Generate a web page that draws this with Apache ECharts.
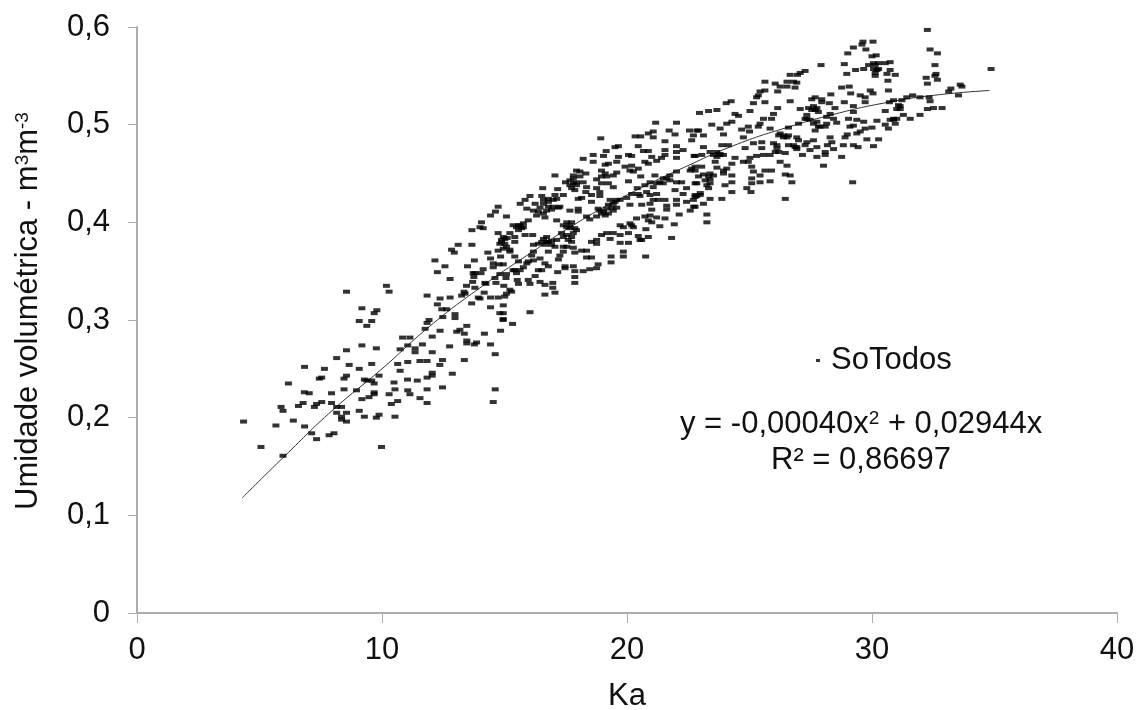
<!DOCTYPE html>
<html><head><meta charset="utf-8">
<script src="https://cdn.jsdelivr.net/npm/echarts@6/dist/echarts.min.js"></script>
<style>html,body{margin:0;padding:0;background:#fff}#c{width:1139px;height:710px}</style>
</head><body><div id="c"></div>
<script>
const xTicks=[0,10,20,30,40];
const yTicks=['0','0,1','0,2','0,3','0,4','0,5','0,6'];
const seriesName='SoTodos';
const r2Text='R² = 0,86697';
const trendLine=[[4.3,.118],[6,.16],[8,.208],[10,.25],[11.92,.293],[14,.333],[15.97,.367],[18,.4],[20,.428],[22.57,.459],[24.5,.48],[26.65,.498],[28.5,.511],[30.46,.522],[32.5,.53],[34.8,.535]];
const zonaBaixa=[[4.34,.196],[5.05,.170],[5.94,.161],[5.65,.192],[5.86,.211],[5.94,.207],[6.36,.197],[6.82,.191],[7.11,.184],[7.31,.178],[7.82,.182],[8.02,.184],[6.16,.235],[6.82,.252],[6.81,.226],[7.01,.225],[6.57,.212],[6.76,.215],[7.22,.211],[7.31,.214],[7.52,.216],[7.92,.225],[7.92,.215],[8.13,.211],[8.33,.211],[8.13,.205],[8.53,.205],[8.33,.201],[8.33,.198],[8.53,.196],[7.42,.240],[7.52,.241],[7.63,.250],[8.13,.261],[8.53,.269],[8.63,.254],[8.43,.240],[8.53,.243],[8.43,.229],[8.93,.228],[9.04,.250],[9.15,.274],[9.55,.255],[9.74,.271],[8.53,.329],[9.15,.312],[9.65,.307],[9.76,.310],[9.04,.299],[9.55,.299],[9.35,.294],[10.15,.335],[10.26,.329],[11.81,.325],[9.25,.239],[9.35,.238],[9.55,.238],[9.65,.235],[9.85,.243],[9.15,.219],[9.44,.221],[9.65,.226],[9.65,.224],[9.04,.207],[9.25,.201],[9.74,.200],[9.85,.203],[9.95,.170],[10.50,.201],[10.26,.224],[10.35,.214],[10.61,.217],[10.50,.229],[10.46,.236],[10.61,.255],[10.71,.248],[11.02,.257],[11.01,.239],[11.41,.238],[11.02,.228],[11.11,.224],[11.52,.220],[11.81,.229],[11.81,.215],[11.81,.241],[11.52,.258],[11.81,.258],[10.71,.270],[11.02,.274],[11.32,.271],[11.32,.267],[11.62,.275],[10.81,.282],[11.11,.282],[11.73,.291],[11.81,.297],[11.89,.300],
[12.33,.289],[13.01,.288],[13.14,.290],[13.42,.294],[13.32,.286],[14.14,.286],[14.80,.289],[15.29,.296],[14.90,.300],[12.02,.283],[12.72,.273],[13.42,.279],[13.42,.276],[13.73,.275],[13.82,.277],[14.39,.275],[14.58,.265],[12.02,.267],[12.43,.259],[12.32,.254],[13.32,.259],[12.02,.246],[12.02,.243],[12.83,.245],[12.43,.231],[14.58,.229],[14.50,.216]];
const zonaMedia=[[12.22,.349],[12.12,.361],[12.53,.355],[12.33,.322],[12.74,.323],[12.22,.316],[12.74,.342],[12.40,.311],[12.60,.311],[12.94,.306],[12.94,.302],[12.44,.303],[12.91,.369],[12.80,.372],[13.07,.377],[13.63,.377],[13.63,.392],[13.96,.395],[14.09,.394],[14.02,.400],[14.39,.407],[14.59,.411],[14.70,.416],[15.04,.406],[13.45,.355],[13.73,.361],[14.28,.369],[14.39,.363],[14.50,.358],[14.50,.354],[14.73,.357],[14.91,.357],[14.80,.365],[14.09,.352],[14.00,.348],[13.75,.348],[13.71,.344],[13.66,.339],[13.41,.335],[13.31,.329],[13.21,.325],[13.35,.327],[13.75,.333],[13.89,.323],[13.96,.322],[13.62,.317],[14.16,.338],[14.20,.337],[14.57,.343],[14.77,.347],[15.04,.347],[15.38,.351],[15.52,.360],[15.38,.365],[15.18,.370],[15.38,.380],[14.70,.389],[14.84,.382],[14.97,.383],[14.77,.378],[14.91,.373],[14.70,.371],[15.18,.372],[15.04,.375],[14.13,.328],[14.39,.323],[14.39,.313],[14.70,.323],[14.91,.315],[14.77,.307],[14.91,.307],[14.91,.301],[14.97,.324],[15.04,.327],[15.18,.331],[15.25,.329],[14.61,.338],[14.93,.335],[15.02,.343],[15.48,.341],[15.52,.337],[15.92,.341],[15.99,.337],[16.40,.339],[16.60,.336],[16.92,.338],[16.92,.333],[17.01,.328],[16.60,.326],[15.99,.308],[15.31,.397],[15.52,.397],[15.72,.399],[15.92,.402],[15.65,.394],[15.45,.395],[15.18,.389],[15.38,.385],[15.79,.387],[16.10,.387],[15.59,.419],[15.79,.423],[15.99,.427],[15.86,.414],[16.20,.419],[16.47,.427],[16.51,.435],[16.54,.423],[16.74,.424],[17.01,.428],[17.12,.434],[17.35,.428],[17.21,.416],[16.94,.416],[16.74,.416],[16.33,.411],[16.54,.409],[16.60,.405],[17.08,.402],[16.26,.407],[17.62,.412],[17.96,.414],[17.96,.411],[17.49,.400],[17.69,.400],[17.35,.397],[17.62,.394],[17.82,.394],[17.76,.389],[17.49,.387],[17.28,.389],[17.01,.448],[17.44,.441],[17.62,.443],[17.76,.448],[17.89,.453],[18.03,.452],[18.27,.450],[17.76,.440],[17.89,.438],[18.16,.441],[17.69,.435],[17.82,.433],[18.10,.425],[17.96,.424],[18.30,.436],[18.27,.431],[18.71,.444],[18.91,.447],[19.05,.450],[18.91,.453],[19.05,.459],[19.18,.460],[19.52,.462],[18.88,.486],[18.16,.465],[18.57,.469],[18.57,.462],[18.98,.468],[19.09,.473],[19.45,.477],[19.59,.478],[19.59,.467],[20.00,.469],[20.13,.468],[20.40,.478],[20.27,.488],[20.50,.488],[20.81,.491],[21.01,.493],[21.01,.487],[21.11,.502],[21.96,.502],[21.49,.483],[21.66,.494],[21.90,.490],[22.48,.494],[22.78,.494],[22.64,.489],[22.57,.484],[20.61,.473],[20.81,.473],[21.49,.474],[21.49,.469],[21.96,.478],[21.96,.472],[22.23,.474],[21.96,.466],[22.67,.468],[21.35,.466],[20.95,.467],[21.15,.463],[20.81,.460],[20.67,.462],[20.13,.458],[19.86,.457],[20.06,.453],[20.20,.452],[20.40,.455],[19.52,.451],[19.38,.448],[19.11,.447],[20.00,.442],[20.50,.447],[21.08,.448],[21.96,.452],[22.51,.453],[22.71,.457],[18.91,.440],[19.18,.440],[19.38,.436],[18.71,.435],[18.84,.431],[18.50,.428],[18.84,.427],[18.50,.421],[18.77,.414],[18.84,.412],[18.30,.406],[18.71,.406],[18.43,.403],[19.05,.407],[19.18,.409],[19.38,.412],[19.52,.415],[19.45,.421],[19.66,.423],[19.18,.418],[19.32,.415],[19.93,.425],[20.13,.429],[20.36,.435],[20.67,.438],[20.88,.441],[21.15,.440],[21.42,.445],[21.69,.448],[21.96,.441],[22.17,.441],[22.71,.440],[22.37,.435],[21.90,.433],[21.01,.436],[20.74,.431],[20.88,.428],[21.15,.429],[20.40,.429],[20.47,.427],[22.23,.429],[22.71,.426],[22.64,.423],[21.96,.423],[21.49,.423],[21.01,.423],[20.06,.418],[20.54,.418],[20.95,.413],[21.56,.413],[21.96,.418],[22.37,.421],[22.71,.416],[22.51,.412],[22.07,.408],[21.56,.417],[21.22,.423],[20.88,.419],[19.66,.397],[19.79,.395],[20.06,.399],[20.33,.404],[20.67,.406],[20.88,.407],[21.15,.405],[20.81,.402],[20.95,.400],[21.49,.404],[21.28,.396],[21.87,.398],[20.71,.393],[20.00,.389],[20.20,.395],[20.13,.397],[20.40,.386],[20.81,.385],[20.54,.382],[21.76,.384],[18.91,.387],[19.11,.389],[19.38,.389],[19.66,.387],[19.25,.383],[18.71,.382],[18.50,.380],[18.71,.378],[19.66,.379],[20.00,.379],[20.47,.382],[18.10,.371],[18.30,.371],[18.30,.364],[18.50,.364],[19.29,.365],[19.29,.359],[19.79,.370],[19.79,.365],[20.70,.365],[18.77,.357],[18.71,.353],[18.43,.352],[18.16,.350],[17.82,.350],[17.82,.344],[17.82,.338],[17.76,.355],[17.42,.355],[17.42,.353],[17.12,.349],[16.47,.351],[16.33,.351],[16.20,.345],[15.59,.351],[15.86,.358],[16.13,.361],[16.06,.366],[16.13,.370],[16.40,.363],[16.60,.358],[16.74,.355],[16.13,.377],[16.33,.378],[16.67,.385],[16.74,.380],[17.08,.382],[17.35,.375],[17.21,.366],[17.35,.370],[17.49,.375],[17.69,.380],[17.76,.374],[17.82,.369],[17.15,.362],[16.74,.370],[16.47,.380],[16.60,.377],[16.87,.377],[17.01,.375]];
const zonaAlta=[[32.17,.597],[32.28,.577],[32.58,.573],[32.48,.561],[32.52,.552],[32.48,.550],[32.58,.546],[32.12,.548],[32.17,.542],[34.76,.557],[29.54,.585],[29.95,.585],[29.50,.582],[29.16,.579],[29.66,.577],[28.93,.573],[29.91,.570],[30.08,.571],[28.79,.562],[27.84,.561],[28.89,.552],[29.25,.556],[29.57,.557],[29.77,.561],[29.97,.563],[30.18,.563],[30.65,.564],[30.45,.563],[29.97,.557],[30.18,.557],[30.04,.553],[30.65,.556],[30.52,.552],[30.04,.550],[30.86,.551],[30.56,.545],[27.19,.555],[26.99,.553],[26.88,.551],[26.58,.551],[25.56,.544],[25.97,.542],[26.17,.539],[26.45,.544],[26.72,.544],[26.85,.543],[26.45,.539],[26.78,.538],[26.07,.534],[25.56,.535],[25.36,.534],[25.29,.530],[25.22,.528],[25.09,.522],[25.56,.523],[24.95,.514],[26.07,.517],[26.58,.524],[24.18,.524],[23.98,.522],[22.89,.512],[23.26,.514],[23.60,.515],[24.34,.511],[24.48,.509],[24.21,.503],[24.00,.501],[23.73,.496],[23.39,.500],[25.90,.511],[25.50,.506],[25.83,.506],[25.36,.501],[25.29,.498],[24.88,.498],[24.61,.495],[24.93,.493],[25.77,.496],[26.51,.497],[24.68,.487],[23.87,.490],[23.05,.489],[22.85,.494],[28.68,.538],[28.99,.539],[29.05,.532],[28.24,.531],[27.60,.528],[27.46,.526],[27.87,.526],[27.87,.523],[28.18,.522],[28.79,.523],[29.84,.535],[29.95,.532],[29.43,.530],[29.63,.528],[29.63,.523],[30.58,.535],[26.99,.516],[27.33,.517],[27.53,.519],[27.67,.517],[27.73,.513],[28.41,.517],[28.21,.511],[29.16,.519],[29.16,.513],[27.26,.510],[27.19,.506],[27.39,.505],[28.07,.508],[28.35,.506],[28.96,.506],[29.30,.505],[29.57,.503],[30.11,.504],[28.48,.502],[26.92,.501],[27.67,.503],[27.80,.498],[28.01,.498],[27.60,.494],[29.16,.499],[29.02,.498],[30.62,.523],[30.79,.525],[31.13,.525],[31.33,.528],[31.57,.530],[31.87,.528],[32.24,.528],[32.28,.524],[31.06,.519],[31.06,.516],[30.45,.514],[32.17,.516],[32.42,.517],[32.76,.517],[31.87,.510],[31.47,.506],[31.19,.510],[30.79,.506],[30.65,.505],[30.86,.501],[30.45,.500],[30.58,.496],[29.91,.497],[29.63,.496],[29.43,.493],[29.30,.491],[28.91,.490],[28.82,.487],[33.12,.537],[33.03,.534],[33.50,.541],[33.57,.539],[33.43,.530],[29.70,.485],[30.18,.485],[29.97,.478],[29.16,.479],[29.34,.477],[28.21,.487],[28.28,.482],[28.75,.479],[28.35,.475],[28.10,.479],[27.67,.477],[27.39,.474],[28.01,.472],[28.01,.469],[27.67,.467],[28.68,.467],[27.94,.458],[29.13,.441],[27.08,.469],[27.53,.484],[27.26,.482],[27.19,.479],[26.85,.487],[26.92,.484],[26.78,.477],[26.85,.475],[26.51,.479],[26.31,.489],[26.11,.489],[26.45,.487],[25.90,.481],[26.04,.476],[26.38,.471],[26.11,.472],[25.43,.482],[25.43,.476],[25.09,.481],[24.75,.476],[23.80,.479],[24.07,.479],[23.60,.472],[23.32,.472],[23.05,.477],[22.98,.469],[22.71,.468],[23.73,.469],[23.87,.469],[25.77,.469],[25.50,.469],[25.22,.468],[24.95,.466],[24.88,.462],[24.68,.462],[25.02,.457],[25.09,.452],[25.36,.448],[25.56,.453],[25.83,.453],[26.17,.462],[26.45,.458],[26.38,.449],[26.58,.448],[26.65,.441],[25.77,.442],[25.36,.441],[25.02,.445],[25.02,.440],[24.82,.435],[24.99,.431],[24.21,.431],[24.21,.441],[24.21,.448],[23.93,.438],[23.87,.450],[24.00,.455],[24.21,.460],[24.34,.466],[23.53,.462],[22.98,.457],[23.60,.456],[23.32,.450],[23.05,.449],[22.85,.447],[23.32,.444],[23.32,.440],[22.78,.440],[23.19,.438],[23.26,.435],[22.92,.430],[22.71,.428],[23.32,.424],[23.80,.424],[23.05,.419],[22.65,.416],[23.19,.408],[26.38,.424],[23.19,.400]];
const zonaDensa=[[16.54,.419],[16.74,.421],[16.94,.423],[17.08,.424],[16.67,.412],[16.87,.413],[17.15,.415],[16.40,.415],[16.13,.412],[17.76,.445],[17.89,.441],[17.62,.438],[18.03,.447],[19.38,.419],[19.52,.423],[19.11,.414],[18.98,.411],[19.25,.423],[18.91,.409],[14.84,.380],[14.97,.378],[14.91,.385],[15.07,.384],[15.59,.397],[15.72,.395],[15.52,.392],[17.49,.395],[17.62,.397],[17.89,.392],[17.69,.385],[17.55,.382],[17.35,.385],[16.67,.380],[16.54,.383],[16.87,.381],[22.57,.455],[22.71,.453],[21.56,.445],[21.69,.443],[21.28,.441],[21.42,.440],[13.68,.348],[15.31,.351],[15.45,.348],[15.72,.354],[15.92,.360],[26.31,.487],[26.17,.491],[26.51,.489],[23.73,.470],[23.60,.467],[23.46,.469],[23.26,.447],[23.12,.443],[23.46,.448],[23.87,.453],[27.46,.515],[27.60,.515],[27.26,.506],[27.53,.501],[27.73,.498],[28.07,.501],[30.04,.561],[30.11,.556],[22.92,.428],[22.78,.427],[26.72,.479],[26.85,.477],[26.04,.479],[25.97,.472],[30.92,.516],[30.99,.520],[30.79,.505],[30.92,.506]];

const font='"Liberation Sans",Arial,sans-serif';
const ink='#111';
const axisCol='#adadad';
const fs=31;
const kaCal=1.0029;
const scatterData=[...zonaBaixa,...zonaMedia,...zonaAlta,...zonaDensa].map(p=>[+(p[0]*kaCal).toFixed(2),p[1]]);
const chart=echarts.init(document.getElementById('c'),null,{renderer:'canvas'});
chart.setOption({
  animation:false,
  backgroundColor:'#fff',
  textStyle:{fontFamily:font,color:ink},
  grid:{left:137,top:27,width:980,height:586,containLabel:false,outerBoundsMode:'none'},
  legend:{
    data:[{name:seriesName,icon:'rect'}],
    left:816,top:345,padding:0,itemWidth:4,itemHeight:3,itemGap:18,
    textStyle:{fontFamily:font,fontSize:fs,color:ink,padding:[0,0,0,6]},
    selectedMode:false
  },
  xAxis:{
    type:'value',min:0,max:40,interval:10,
    name:'Ka',nameLocation:'middle',nameGap:68,
    nameTextStyle:{fontFamily:font,fontSize:fs,color:ink},
    axisLine:{show:true,onZero:false,lineStyle:{color:axisCol,width:2}},
    axisTick:{show:true,length:10,lineStyle:{color:axisCol,width:1}},
    axisLabel:{margin:22,fontFamily:font,fontSize:fs,color:ink,formatter:v=>String(v),hideOverlap:false},
    splitLine:{show:false}
  },
  yAxis:{
    type:'value',min:0,max:0.6,interval:0.1,
    name:'{a|Umidade volumétrica - m}{s|3}{a|m}{s|-3}',
    nameLocation:'middle',nameGap:93,
    nameTextStyle:{fontFamily:font,fontSize:fs,color:ink,padding:[0,0,0,18],
      rich:{a:{fontFamily:font,fontSize:fs,color:ink},s:{fontFamily:font,fontSize:19,color:ink,verticalAlign:'top',padding:[0,0,12,0]}}},
    axisLine:{show:true,onZero:false,lineStyle:{color:axisCol,width:2}},
    axisTick:{show:true,length:9,lineStyle:{color:axisCol,width:1}},
    axisLabel:{margin:27,fontFamily:font,fontSize:fs,color:ink,formatter:(v,i)=>yTicks[i],hideOverlap:false},
    splitLine:{show:false}
  },
  series:[
    {name:seriesName,type:'scatter',symbol:'rect',symbolSize:[7,4],
     itemStyle:{color:'#000'},data:scatterData,z:3},
    {name:'Tendência',type:'line',data:trendLine,smooth:true,showSymbol:false,
     lineStyle:{color:'#333',width:1},z:2}
  ],
  graphic:[
    {type:'text',left:680,top:409,z:10,style:{text:'{a|y = -0,00040x}{s|2}{a| + 0,02944x}',rich:{a:{fontFamily:font,fontSize:fs,fill:ink},s:{fontFamily:font,fontSize:19,fill:ink,verticalAlign:'top',padding:[0,0,12,0]}}}},
    {type:'text',left:771,top:445,z:10,style:{text:r2Text,font:fs+'px '+font,fill:ink}}
  ]
});
</script></body></html>
